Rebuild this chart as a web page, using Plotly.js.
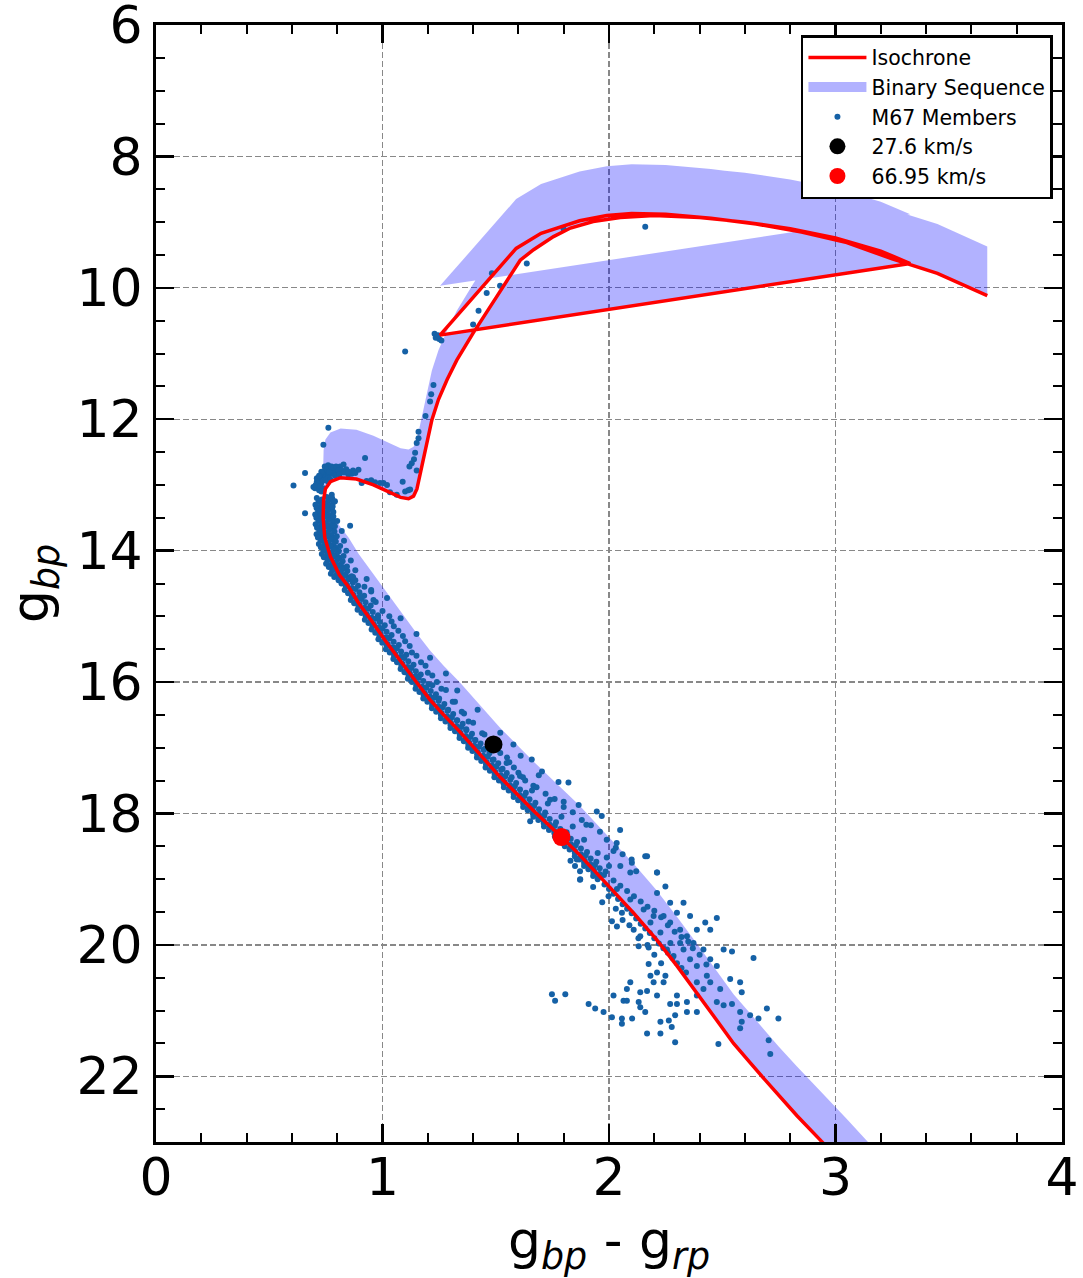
<!DOCTYPE html>
<html>
<head>
<meta charset="utf-8">
<script src="https://cdn.plot.ly/plotly-3.0.1.min.js"></script>
<style>html,body{margin:0;padding:0;background:#fff;}</style>
</head>
<body>
<div id="chart" style="width:1083px;height:1278px;"></div>
<script>
// Isochrone (colour, magnitude): main sequence -> turnoff -> subgiant -> RGB -> tip -> clump -> AGB
const isoColor = [3.17,3.05,2.93,2.83,2.75,2.68,2.62,2.55,2.47,2.39,
  2.30,2.21,2.11,1.97,1.87,1.79,1.67,1.52,1.43,1.34,
  1.27,1.21,1.145,1.08,1.01,0.95,0.895,0.85,0.81,0.77,
  0.745,0.738,0.740,0.748,0.770,0.815,0.885,0.960,1.035,1.080,
  1.115,1.137,1.152,1.174,1.196,1.218,1.247,1.285,1.328,1.400,
  1.505,1.608,1.667,1.755,1.830,1.930,2.050,2.200,2.400,2.600,
  2.800,3.000,3.200,3.330,1.254,1.420,1.590,1.700,1.780,1.870,
  1.990,2.100,2.250,2.450,2.650,2.850,3.050,3.250,3.450,3.670];
const isoMag = [23.85,23.40,22.96,22.60,22.30,22.02,21.78,21.50,21.12,20.74,
  20.32,19.92,19.52,19.00,18.63,18.36,17.97,17.45,17.10,16.75,
  16.50,16.27,15.98,15.68,15.36,15.06,14.80,14.55,14.37,14.09,
  13.80,13.50,13.22,13.06,12.95,12.89,12.91,13.00,13.12,13.19,
  13.21,13.17,13.06,12.72,12.36,12.01,11.70,11.40,11.10,10.69,
  10.13,9.58,9.42,9.22,9.09,8.99,8.93,8.90,8.93,9.00,
  9.10,9.24,9.44,9.63,10.72,10.06,9.40,9.17,9.08,8.98,
  8.90,8.87,8.88,8.94,9.03,9.15,9.31,9.56,9.78,10.12];
// Binary sequence upper edge (equal-mass binaries, 0.75 mag brighter than the isochrone)
const binaryMag = [23.10,22.65,22.21,21.85,21.55,21.27,21.03,20.75,20.37,19.99,
  19.57,19.17,18.77,18.25,17.88,17.61,17.22,16.70,16.35,16.00,
  15.75,15.52,15.23,14.93,14.61,14.31,14.05,13.80,13.62,13.34,
  13.05,12.75,12.47,12.31,12.20,12.14,12.16,12.25,12.37,12.44,
  12.46,12.42,12.31,11.97,11.61,11.26,10.95,10.65,10.35,9.94,
  9.38,8.83,8.67,8.47,8.34,8.24,8.18,8.15,8.18,8.25,
  8.35,8.49,8.69,8.88,9.97,9.31,8.65,8.42,8.33,8.23,
  8.15,8.12,8.13,8.19,8.28,8.40,8.56,8.81,9.03,9.37];

// M67 members: turnoff region
const turnoffColor = [0.761,0.739,0.813,0.828,0.761,0.776,0.783,0.754,0.739,0.724,
  0.710,0.717,0.702,0.695,0.658,0.607,0.894,0.849,0.864,0.908,
  0.930,0.967,0.989,1.004,1.033,1.063,1.089,1.100,1.114,1.122,
  0.923,0.658,0.857,0.770,0.790,0.800,0.745,0.735,0.750,0.765,
  0.730,0.720,0.740,0.800,0.820,0.780,0.710,0.840,0.870,0.760,
  0.745,0.755,0.765,0.775,0.785,0.795,0.805,0.730,0.720,0.750,
  0.760,0.715,0.705,0.725,0.740,0.730,0.760,0.770,0.790,0.810,
  0.830,0.850,0.880,0.950,1.020];
const turnoffMag = [12.13,12.39,12.72,12.69,12.72,12.74,12.79,12.82,12.86,12.91,
  12.95,13.00,13.05,13.03,12.82,13.01,12.77,12.84,12.83,12.97,
  12.94,12.96,12.97,12.97,13.11,13.15,12.95,13.10,13.08,13.07,
  12.59,13.43,13.62,12.76,12.77,12.80,12.78,12.84,12.88,12.85,
  12.97,13.08,12.93,12.75,12.78,12.82,12.90,12.76,12.78,12.70,
  12.72,12.76,12.80,12.72,12.74,12.72,12.78,12.80,12.86,12.92,
  12.95,12.98,13.00,13.02,13.05,13.10,12.90,12.92,12.86,12.84,
  12.81,12.80,12.82,12.93,13.00];

// M67 members: subgiants, giants, red clump
const giantColor = [1.159,1.159,1.151,1.144,1.139,1.129,1.119,1.151,1.210,1.190,
  1.215,1.225,1.400,1.424,1.460,1.483,1.519,1.637,1.800,2.160,
  1.230,1.240,1.250,1.235,1.260,1.245,1.100];
const giantMag = [12.19,12.29,12.36,12.51,12.61,12.67,12.72,12.78,11.73,11.95,
  11.62,11.48,10.56,10.35,10.08,9.78,9.97,9.63,9.11,9.07,
  10.70,10.74,10.78,10.76,10.80,10.72,10.97];

// M67 members: upper main sequence 13.2 - 14.5
const upperMSColor = [0.710,0.732,0.754,0.778, 0.718,0.740,0.762,0.785, 0.704,0.727,0.747,0.769,
  0.709,0.731,0.753,0.777, 0.716,0.738,0.760,0.783, 0.703,0.726,0.746,0.768,
  0.708,0.730,0.752,0.776, 0.717,0.739,0.761,0.784, 0.705,0.728,0.748,0.770,
  0.711,0.733,0.755,0.779, 0.721,0.743,0.765,0.788, 0.709,0.732,0.752,0.774,
  0.715,0.737,0.759,0.783, 0.727,0.749,0.771,0.794, 0.719,0.742,0.762,0.784,
  0.728,0.750,0.772,0.796, 0.740,0.762,0.784,0.807, 0.732,0.755,0.775,0.797,
  0.741,0.763,0.785,0.809, 0.757,0.779,0.801,0.824, 0.751,0.774,0.794,0.816,
  0.763,0.785,0.807,0.831, 0.778,0.800,0.822,0.845, 0.772,0.795,0.815,0.837,
  0.787,0.809,0.831,0.855, 0.806,0.828,0.850,0.873,
  0.776,0.776,0.780,0.783,0.790,0.798,0.813,0.828,0.843,0.864,
  0.790,0.800,0.820,0.840,0.860,0.830,0.880];
const upperMSMag = [13.20,13.22,13.185,13.21, 13.25,13.27,13.235,13.26, 13.30,13.32,13.285,13.31,
  13.35,13.37,13.335,13.36, 13.40,13.42,13.385,13.41, 13.45,13.47,13.435,13.46,
  13.50,13.52,13.485,13.51, 13.55,13.57,13.535,13.56, 13.60,13.62,13.585,13.61,
  13.65,13.67,13.635,13.66, 13.70,13.72,13.685,13.71, 13.75,13.77,13.735,13.76,
  13.80,13.82,13.785,13.81, 13.85,13.87,13.835,13.86, 13.90,13.92,13.885,13.91,
  13.95,13.97,13.935,13.96, 14.00,14.02,13.985,14.01, 14.05,14.07,14.035,14.06,
  14.10,14.12,14.085,14.11, 14.15,14.17,14.135,14.16, 14.20,14.22,14.185,14.21,
  14.25,14.27,14.235,14.26, 14.30,14.32,14.285,14.31, 14.35,14.37,14.335,14.36,
  14.40,14.42,14.385,14.41, 14.45,14.47,14.435,14.46,
  13.15,13.20,13.33,13.48,13.63,13.78,13.93,14.08,14.24,14.39,
  13.25,13.55,13.70,14.00,14.15,13.85,14.30];

// M67 members: main sequence ridge 14.5 - 19.0
const midMSColor = [
  0.819,0.843,0.869, 0.838,0.865,0.892, 0.833,0.857,0.881, 0.848,0.872,0.898, 0.865,0.892,0.919,
  0.860,0.884,0.908, 0.875,0.899,0.925, 0.894,0.921,0.948, 0.890,0.914,0.938, 0.907,0.931,0.957,
  0.926,0.953,0.980, 0.922,0.946,0.970, 0.938,0.962,0.988, 0.956,0.983,1.010, 0.952,0.976,1.000,
  0.968,0.992,1.018, 0.986,1.013,1.040, 0.982,1.006,1.030, 0.999,1.023,1.049, 1.018,1.045,1.072,
  1.015,1.039,1.063, 1.032,1.056,1.082, 1.051,1.078,1.105, 1.048,1.072,1.096, 1.064,1.088,1.114,
  1.083,1.110,1.137, 1.080,1.104,1.128, 1.097,1.121,1.147, 1.115,1.142,1.169, 1.112,1.136,1.160,
  1.130,1.154,1.180, 1.149,1.176,1.203, 1.146,1.170,1.194, 1.163,1.187,1.213, 1.182,1.209,1.236,
  1.180,1.204,1.228, 1.198,1.222,1.248, 1.219,1.246,1.273, 1.218,1.242,1.266, 1.237,1.261,1.287,
  1.258,1.285,1.312, 1.258,1.282,1.306, 1.278,1.302,1.328, 1.300,1.327,1.354, 1.300,1.324,1.348,
  1.320,1.344,1.370, 1.341,1.368,1.395, 1.340,1.364,1.388, 1.359,1.383,1.409, 1.379,1.406,1.433,
  1.378,1.402,1.426, 1.397,1.421,1.447, 1.418,1.445,1.472, 1.417,1.441,1.465, 1.436,1.460,1.486,
  1.457,1.484,1.511, 1.455,1.479,1.503, 1.474,1.498,1.524, 1.495,1.522,1.549, 1.494,1.518,1.542,
  1.514,1.538,1.564, 1.536,1.563,1.590, 1.536,1.560,1.584, 1.557,1.581,1.607, 1.579,1.606,1.633,
  1.579,1.603,1.627, 1.599,1.623,1.649, 1.621,1.648,1.675, 1.621,1.645,1.669, 1.641,1.665,1.691,
  1.664,1.691,1.718, 1.666,1.690,1.714, 1.688,1.712,1.738, 1.712,1.739,1.766, 1.713,1.737,1.761,
  1.735,1.759,1.785, 1.759,1.786,1.813, 1.761,1.785,1.809, 1.781,1.805,1.831, 1.805,1.832,1.859,
  1.805,1.829,1.853, 1.826,1.850,1.876, 1.849,1.876,1.903, 1.849,1.873,1.897, 1.869,1.893,1.919,
  1.890,1.917,1.944, 1.890,1.914,1.938, 1.909,1.933,1.959, 1.931,1.958,1.985, 1.930,1.954,1.978];
const midMSMag = [
  14.50,14.52,14.485, 14.55,14.57,14.535, 14.60,14.62,14.585, 14.65,14.67,14.635, 14.70,14.72,14.685,
  14.75,14.77,14.735, 14.80,14.82,14.785, 14.85,14.87,14.835, 14.90,14.92,14.885, 14.95,14.97,14.935,
  15.00,15.02,14.985, 15.05,15.07,15.035, 15.10,15.12,15.085, 15.15,15.17,15.135, 15.20,15.22,15.185,
  15.25,15.27,15.235, 15.30,15.32,15.285, 15.35,15.37,15.335, 15.40,15.42,15.385, 15.45,15.47,15.435,
  15.50,15.52,15.485, 15.55,15.57,15.535, 15.60,15.62,15.585, 15.65,15.67,15.635, 15.70,15.72,15.685,
  15.75,15.77,15.735, 15.80,15.82,15.785, 15.85,15.87,15.835, 15.90,15.92,15.885, 15.95,15.97,15.935,
  16.00,16.02,15.985, 16.05,16.07,16.035, 16.10,16.12,16.085, 16.15,16.17,16.135, 16.20,16.22,16.185,
  16.25,16.27,16.235, 16.30,16.32,16.285, 16.35,16.37,16.335, 16.40,16.42,16.385, 16.45,16.47,16.435,
  16.50,16.52,16.485, 16.55,16.57,16.535, 16.60,16.62,16.585, 16.65,16.67,16.635, 16.70,16.72,16.685,
  16.75,16.77,16.735, 16.80,16.82,16.785, 16.85,16.87,16.835, 16.90,16.92,16.885, 16.95,16.97,16.935,
  17.00,17.02,16.985, 17.05,17.07,17.035, 17.10,17.12,17.085, 17.15,17.17,17.135, 17.20,17.22,17.185,
  17.25,17.27,17.235, 17.30,17.32,17.285, 17.35,17.37,17.335, 17.40,17.42,17.385, 17.45,17.47,17.435,
  17.50,17.52,17.485, 17.55,17.57,17.535, 17.60,17.62,17.585, 17.65,17.67,17.635, 17.70,17.72,17.685,
  17.75,17.77,17.735, 17.80,17.82,17.785, 17.85,17.87,17.835, 17.90,17.92,17.885, 17.95,17.97,17.935,
  18.00,18.02,17.985, 18.05,18.07,18.035, 18.10,18.12,18.085, 18.15,18.17,18.135, 18.20,18.22,18.185,
  18.25,18.27,18.235, 18.30,18.32,18.285, 18.35,18.37,18.335, 18.40,18.42,18.385, 18.45,18.47,18.435,
  18.50,18.52,18.485, 18.55,18.57,18.535, 18.60,18.62,18.585, 18.65,18.67,18.635, 18.70,18.72,18.685,
  18.75,18.77,18.735, 18.80,18.82,18.785, 18.85,18.87,18.835, 18.90,18.92,18.885, 18.95,18.97,18.935];

// M67 members: binaries and scattered stars 14.4 - 19
const binaryStarColor = [0.880,0.920,0.950,0.900,0.970,0.930,1.000,0.980,1.040,0.990,
  1.070,1.020,1.100,1.060,1.130,1.090,1.170,1.120,1.200,1.150,1.240,
  1.220,1.280,1.250,1.320,1.290,1.360,1.330,1.400,1.370,1.440,
  1.410,1.480,1.450,1.520,1.490,1.560,1.530,1.600,1.570,1.630,
  1.578,1.659,1.704,1.548,1.533,1.607,
  1.777,1.821,1.740,1.866,1.946,1.968,2.049,2.160,2.212,1.652,
  1.872,1.872,1.990,2.034,2.101,1.666,
  1.680,1.720,1.760,1.800,1.840,1.880,1.920,1.960,1.990,
  2.030,2.060,2.100,2.050,2.120,1.830,1.850,
  0.870,0.930,0.950,0.960,1.020,1.030,1.080,1.050,1.090,1.150,
  1.120,1.150,1.210,1.190,1.220,1.280,1.260,1.330,1.310,1.350,
  1.420,1.380,1.450,1.520,1.500,1.550,1.610,1.580,1.620,1.690,
  1.660,1.730,1.800,1.790,1.840,1.900,1.890,1.950,2.020,2.000];
const binaryStarMag = [14.45,14.55,14.62,14.70,14.78,14.88,14.92,15.02,15.08,15.18,
  15.22,15.32,15.38,15.48,15.55,15.62,15.70,15.78,15.86,15.92,16.00,
  16.05,16.12,16.25,16.30,16.42,16.48,16.58,16.62,16.72,16.78,
  16.88,16.92,17.02,17.08,17.18,17.22,17.32,17.38,17.45,17.50,
  16.95,17.18,17.36,17.23,17.53,17.43,
  17.52,17.53,17.79,17.87,17.97,18.04,18.25,18.65,18.90,18.12,
  18.88,19.01,18.67,18.45,18.75,17.58,
  17.60,17.70,17.78,17.90,17.98,18.10,18.18,18.28,18.40,
  18.52,18.62,18.70,18.80,18.88,18.72,18.80,
  14.40,14.43,14.60,14.75,14.72,15.00,15.03,15.15,15.30,15.27,
  15.45,15.60,15.63,15.75,15.90,15.87,16.10,16.13,16.30,16.45,
  16.42,16.60,16.80,16.77,17.00,17.15,17.12,17.30,17.45,17.42,
  17.65,17.85,17.82,18.05,18.20,18.17,18.40,18.60,18.57,18.80];

// M67 members: faint end 19 - 21.7
const faintColor = [1.858,1.873,1.932,1.998,2.035,2.094,2.168,2.212,2.094,2.153,
  2.212,2.249,2.270,2.329,2.358,2.425,2.476,2.388,2.447,2.183,
  2.227,2.271,2.329,2.358,2.388,2.447,2.506,2.543,2.638,2.138,
  2.175,2.131,2.109,2.057,2.035,2.013,2.256,2.285,2.314,2.344,
  2.314,2.270,2.241,2.197,2.300,2.373,2.417,2.476,2.432,2.388,
  2.417,2.447,2.491,2.535,2.579,2.586,2.476,2.506,2.543,2.579,
  2.623,2.660,2.697,2.748,2.586,2.579,2.705,2.712,2.483,2.388,
  2.344,2.344,2.388,2.300,2.270,2.300,2.292,2.277,2.292,2.227,
  2.264,2.183,2.212,2.249,2.241,2.197,2.175,2.094,2.079,2.138,
  2.168,2.212,2.131,2.138,2.160,2.020,2.064,2.079,2.013,2.057,
  2.057,2.102,2.168,2.227,1.976,1.939,1.910,1.807,1.762,1.748,
  1.950,1.980,2.000,2.020,2.040,2.060,2.080,2.100,2.120,2.140,
  2.160,2.180,2.200,2.220,2.240,2.260,2.280,2.300,2.320,2.340,
  2.020,2.050,2.080,2.110,2.140,2.170,2.200,2.230,2.260,2.290,
  2.320,2.350,2.370,2.400,2.430,1.930,1.970,2.030,2.060,2.090,
  2.130,2.170,2.200,2.230];
const faintMag = [18.70,19.00,18.85,19.26,19.15,18.90,18.65,18.90,19.31,19.46,
  19.21,19.11,19.36,19.36,19.56,19.66,19.59,19.77,19.77,19.66,
  19.81,19.97,20.07,20.22,20.32,20.22,20.07,20.10,20.20,19.87,
  20.04,20.02,19.77,19.51,19.72,19.64,20.07,20.17,19.97,19.87,
  19.77,19.66,19.56,19.56,19.51,19.97,20.07,20.32,20.47,20.57,
  20.67,20.57,20.67,20.52,20.57,20.72,20.87,20.92,20.90,21.02,
  21.07,21.12,20.97,21.12,21.17,21.27,21.45,21.66,21.51,20.77,
  20.87,21.02,21.02,20.90,20.90,20.77,21.07,21.25,21.48,21.17,
  21.15,20.47,20.42,20.47,20.57,20.57,20.29,20.57,20.67,20.72,
  20.70,20.77,20.87,20.95,21.02,20.77,20.85,20.85,21.10,21.12,
  21.20,21.12,21.35,21.35,21.02,20.97,20.90,20.75,20.85,20.75,
  19.00,19.08,19.15,19.22,19.30,19.38,19.45,19.52,19.60,19.68,
  19.75,19.82,19.90,19.98,20.05,20.12,20.20,20.28,20.35,20.42,
  19.02,19.10,19.18,19.26,19.34,19.42,19.48,19.58,19.70,19.80,
  19.88,19.95,20.05,20.15,20.30,19.12,19.35,19.45,19.62,19.70,
  19.90,20.00,20.15,20.28];

// Highlighted stars
const starNames = ['27.6 km/s', '66.95 km/s'];
const starColor = [1.49, 1.79];
const starMag = [16.95, 18.36];

// Axes
const xRange = [0, 4];
const yRange = [23, 6];

const memberColor = [].concat(turnoffColor, giantColor, upperMSColor, midMSColor, binaryStarColor, faintColor);
const memberMag = [].concat(turnoffMag, giantMag, upperMSMag, midMSMag, binaryStarMag, faintMag);

const polyX = isoColor.concat(isoColor.slice().reverse());
const polyY = isoMag.concat(binaryMag.slice().reverse());

const bandColor = 'rgba(0,0,255,0.3)';

const traces = [
  {x: polyX, y: polyY, mode: 'lines', fill: 'toself', fillcolor: bandColor,
   line: {width: 0, color: 'rgba(0,0,255,0)'}, name: 'Binary Sequence', showlegend: false, hoverinfo: 'skip'},
  {x: [null], y: [null], mode: 'lines', line: {width: 18, color: bandColor},
   name: 'Binary Sequence', legendrank: 2},
  {x: memberColor, y: memberMag, mode: 'markers', type: 'scatter',
   marker: {size: 6, color: '#1561a6'}, name: 'M67 Members', legendrank: 3},
  {x: isoColor, y: isoMag, mode: 'lines', line: {color: '#ff0000', width: 3.5},
   name: 'Isochrone', legendrank: 1},
  {x: [starColor[0]], y: [starMag[0]], mode: 'markers', marker: {size: 18, color: '#000000'},
   name: starNames[0], legendrank: 4},
  {x: [starColor[1]], y: [starMag[1]], mode: 'markers', marker: {size: 18, color: '#ff0000'},
   name: starNames[1], legendrank: 5}
];

const axisCommon = {
  ticks: 'inside', ticklen: 18, tickwidth: 2.5, tickcolor: '#000',
  showline: true, linewidth: 3, linecolor: '#000', mirror: 'allticks',
  showgrid: true, gridcolor: '#888', gridwidth: 1.3, griddash: '6px,3px',
  zeroline: false, tickfont: {size: 52, color: '#000'}, ticklabeloverflow: 'allow'
};

const layout = {
  width: 1083, height: 1278,
  margin: {l: 156, r: 21, t: 25, b: 136},
  paper_bgcolor: '#fff', plot_bgcolor: '#fff',
  font: {family: 'DejaVu Sans', color: '#000'},
  showlegend: true,
  legend: {x: 0.99, y: 0.991, xanchor: 'right', yanchor: 'top',
    bgcolor: '#fff', bordercolor: '#000', borderwidth: 2.5,
    font: {size: 20.5, color: '#000'}, itemsizing: 'trace', itemwidth: 58, tracegroupgap: 0},
  xaxis: Object.assign({}, axisCommon, {
    range: xRange, autorange: false, tickmode: 'linear', tick0: 0, dtick: 1,
    ticklabelstandoff: -12,
    minor: {ticks: 'inside', ticklen: 9, tickwidth: 2, tickcolor: '#000', tick0: 0, dtick: 0.2, showgrid: false},
    title: {text: 'g<sub><i>bp</i></sub> - g<sub><i>rp</i></sub>', font: {size: 52}, standoff: 19}
  }),
  yaxis: Object.assign({}, axisCommon, {
    range: yRange, autorange: false, tickmode: 'linear', tick0: 6, dtick: 2,
    minor: {ticks: 'inside', ticklen: 9, tickwidth: 2, tickcolor: '#000', tick0: 6, dtick: 0.5, showgrid: false},
    title: {text: 'g<sub><i>bp</i></sub>', font: {size: 52}, standoff: 16}
  })
};

Plotly.newPlot('chart', traces, layout, {displayModeBar: false, staticPlot: true});
</script>
</body>
</html>
